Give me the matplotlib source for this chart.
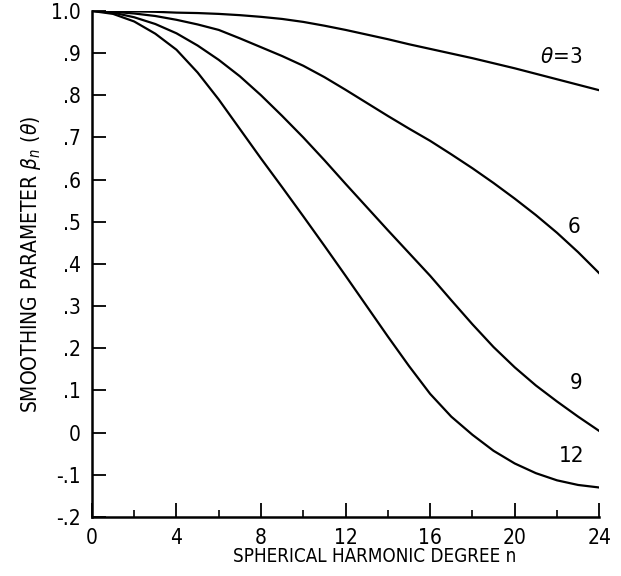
import matplotlib
matplotlib.use("Agg")
import matplotlib.pyplot as plt
from matplotlib.ticker import MultipleLocator

# degree n
n = list(range(25))

# smoothing parameter for each cap radius theta
beta_3 = [1.0, 1.0, 0.999, 0.998, 0.996, 0.995, 0.993, 0.990, 0.986, 0.981, 0.974, 0.965,
          0.955, 0.944, 0.933, 0.921, 0.910, 0.899, 0.888, 0.876, 0.864, 0.851, 0.838, 0.825, 0.812]
beta_6 = [1.0, 0.998, 0.994, 0.988, 0.979, 0.968, 0.955, 0.935, 0.914, 0.893, 0.870, 0.843,
          0.813, 0.782, 0.751, 0.721, 0.692, 0.660, 0.627, 0.592, 0.555, 0.516, 0.474, 0.428, 0.378]
beta_9 = [1.0, 0.996, 0.985, 0.969, 0.947, 0.918, 0.884, 0.845, 0.800, 0.751, 0.700, 0.646,
          0.590, 0.535, 0.480, 0.426, 0.372, 0.314, 0.257, 0.203, 0.155, 0.112, 0.074, 0.038, 0.004]
beta_12 = [1.0, 0.993, 0.975, 0.946, 0.908, 0.854, 0.790, 0.720, 0.650, 0.582, 0.513, 0.443,
           0.372, 0.300, 0.228, 0.158, 0.092, 0.038, -0.005, -0.043, -0.073, -0.096, -0.113, -0.124, -0.130]

curve_labels = [r"$\theta$=3", "6", "9", "12"]
label_pos = [(22.2, 0.89), (22.8, 0.488), (22.9, 0.118), (22.7, -0.055)]

yticks = [1.0, 0.9, 0.8, 0.7, 0.6, 0.5, 0.4, 0.3, 0.2, 0.1, 0.0, -0.1, -0.2]
ytick_labels = ["1.0", ".9", ".8", ".7", ".6", ".5", ".4", ".3", ".2", ".1", "0", "-.1", "-.2"]
xticks = [0, 4, 8, 12, 16, 20, 24]

plt.rcParams['font.family'] = ['DejaVu Sans']
plt.rcParams['font.stretch'] = 'condensed'
plt.rcParams['mathtext.fontset'] = 'dejavusans'

fig = plt.figure(figsize=(6.21, 5.76), dpi=100)
ax = fig.add_axes([0.148, 0.1024, 0.817, 0.8786])

for b in [beta_3, beta_6, beta_9, beta_12]:
    ax.plot(n, b, c="black", lw=1.6)

for lab, (x, y) in zip(curve_labels, label_pos):
    ax.text(x, y, lab, fontsize=16, ha="center", va="center")

ax.set_xlim(0, 24)
ax.set_ylim(-0.2, 1.0)
ax.set_xticks(xticks)
ax.xaxis.set_minor_locator(MultipleLocator(2))
ax.set_yticks(yticks)
ax.set_yticklabels(ytick_labels)

ax.spines["top"].set_visible(False)
ax.spines["right"].set_visible(False)
ax.spines["left"].set_linewidth(1.8)
ax.spines["bottom"].set_linewidth(1.8)
ax.tick_params(axis="both", which="major", direction="in", length=10, width=1.3,
               labelsize=15, pad=8)
ax.tick_params(axis="x", which="minor", direction="in", length=5, width=1.2)

ax.set_xlabel("SPHERICAL HARMONIC DEGREE n", fontsize=13.5, x=0.558, labelpad=-1)
ax.set_ylabel(r"SMOOTHING PARAMETER $\beta_n$ ($\theta$)", fontsize=15, labelpad=6)

fig.savefig("out.png", dpi=100)
